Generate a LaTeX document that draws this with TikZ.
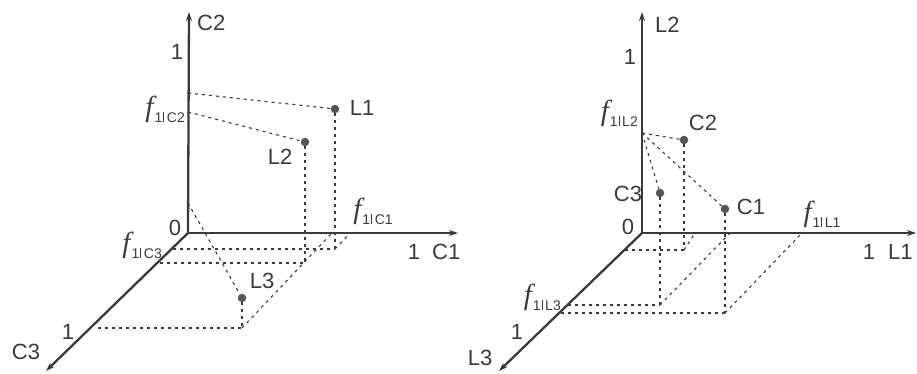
\documentclass[tikz,border=0pt]{standalone}
\usepackage{fontspec}
\setmainfont{Liberation Sans}
\newfontfamily\serifit{Liberation Serif}
\usetikzlibrary{arrows.meta}
\definecolor{ink}{HTML}{3A3A3A}
\definecolor{dotc}{HTML}{555555}
\newcommand{\fsub}[1]{{\serifit\itshape\fontsize{29}{29}\selectfont f}\kern1pt\raisebox{-6pt}{\fontsize{14}{14}\selectfont 1\kern1pt\rule[0pt]{0.6pt}{10pt}\kern3pt #1}}
\begin{document}
\begin{tikzpicture}[x=1pt,y=-1pt,
  axis/.style={draw=ink,line width=2.3pt,-{Stealth[length=9pt,width=6pt]}},
  guide/.style={draw=ink,line width=1.1pt,dash pattern=on 3pt off 4pt},
  pt/.style={circle,fill=dotc,inner sep=0pt,minimum size=8.5pt},
  lab/.style={inner sep=0pt,text=ink,font=\fontsize{22}{22}\selectfont},
  flab/.style={inner sep=0pt,text=ink}]
\useasboundingbox (0,0) rectangle (917,374);
% ---------------- left diagram ----------------
\coordinate (O1) at (188,233);
\coordinate (C2tip) at (189,12);
\coordinate (C1tip) at (458,233);
\coordinate (C3tip) at (46,371);
\draw[axis] (O1) -- (C2tip);
\draw[axis] (O1) -- (C1tip);
\draw[axis] (O1) -- (C3tip);
\node[pt] (L1) at (335,109) {};
\node[pt] (L2) at (305,142) {};
\node[pt] (L3) at (242,298) {};
\coordinate (a1) at (188,93);
\coordinate (a2) at (188,112);
\coordinate (a3) at (188,203);
\coordinate (foot1) at (335,249);
\coordinate (foot2) at (305,263);
\coordinate (foot3) at (242,328);
\coordinate (h1) at (173,249);
\coordinate (h2) at (160,263);
\coordinate (h3) at (98,328);
\coordinate (d1) at (350,233);
\coordinate (d3) at (332,233);
\draw[guide] (a1) -- (L1);
\draw[guide] (a2) -- (L2);
\draw[guide] (a3) -- (L3);
\draw[guide] (L1) -- (foot1);
\draw[guide] (L2) -- (foot2);
\draw[guide] (L3) -- (foot3);
\draw[guide] (h1) -- (foot1);
\draw[guide] (h2) -- (foot2);
\draw[guide] (h3) -- (foot3);
\draw[guide] (foot1) -- (d1);
\draw[guide] (foot3) -- (d3);
\node[lab,anchor=west] (tC2) at (197,23) {C2};
\node[lab] (tone2) at (177,52) {1};
\node[lab] (tzero1) at (175,228) {0};
\node[lab] (tone1) at (414,252) {1};
\node[lab,anchor=west] (tC1) at (432,252) {C1};
\node[lab] (tone3) at (68,332) {1};
\node[lab] (tC3) at (26,352) {C3};
\node[lab] (tL1) at (362,108) {L1};
\node[lab] (tL2) at (280,157) {L2};
\node[lab] (tL3) at (262,281) {L3};
\node[flab,anchor=east] (fC2) at (185,109) {\fsub{C2}};
\node[flab] (fC1) at (373,211) {\fsub{C1}};
\node[flab,anchor=east] (fC3) at (162,245) {\fsub{C3}};
% ---------------- right diagram ----------------
\coordinate (O2) at (642,233);
\coordinate (L2tip) at (642,12);
\coordinate (L1tip) at (916,233);
\coordinate (L3tip) at (499,371);
\draw[axis] (O2) -- (L2tip);
\draw[axis] (O2) -- (L1tip);
\draw[axis] (O2) -- (L3tip);
\node[pt] (C2) at (684,140) {};
\node[pt] (C3) at (660,193) {};
\node[pt] (C1) at (725,209) {};
\coordinate (b) at (642,133);
\coordinate (g2) at (684,250);
\coordinate (g3) at (660,305);
\coordinate (g1) at (725,313);
\coordinate (k2) at (625,250);
\coordinate (k3) at (568,305);
\coordinate (k1) at (561,313);
\coordinate (e2) at (695,233);
\coordinate (e3) at (730,233);
\coordinate (e1) at (802,233);
\draw[guide] (b) -- (C2);
\draw[guide] (b) -- (C3);
\draw[guide] (b) -- (C1);
\draw[guide] (C2) -- (g2);
\draw[guide] (C3) -- (g3);
\draw[guide] (C1) -- (g1);
\draw[guide] (k2) -- (g2);
\draw[guide] (k3) -- (g3);
\draw[guide] (k1) -- (g1);
\draw[guide] (g2) -- (e2);
\draw[guide] (g3) -- (e3);
\draw[guide] (g1) -- (e1);
\node[lab,anchor=west] (tL2r) at (655,25) {L2};
\node[lab] (tone2r) at (630,57) {1};
\node[lab] (tzero2) at (628,227) {0};
\node[lab] (tone1r) at (869,252) {1};
\node[lab,anchor=west] (tL1r) at (888,252) {L1};
\node[lab] (tone3r) at (517,332) {1};
\node[lab] (tL3r) at (480,358) {L3};
\node[lab] (tC2r) at (703,123) {C2};
\node[lab] (tC3r) at (628,194) {C3};
\node[lab] (tC1r) at (751,207) {C1};
\node[flab,anchor=east] (fL2) at (638,113) {\fsub{L2}};
\node[flab] (fL1) at (822,214) {\fsub{L1}};
\node[flab,anchor=east] (fL3) at (561,297) {\fsub{L3}};
\end{tikzpicture}
\end{document}
